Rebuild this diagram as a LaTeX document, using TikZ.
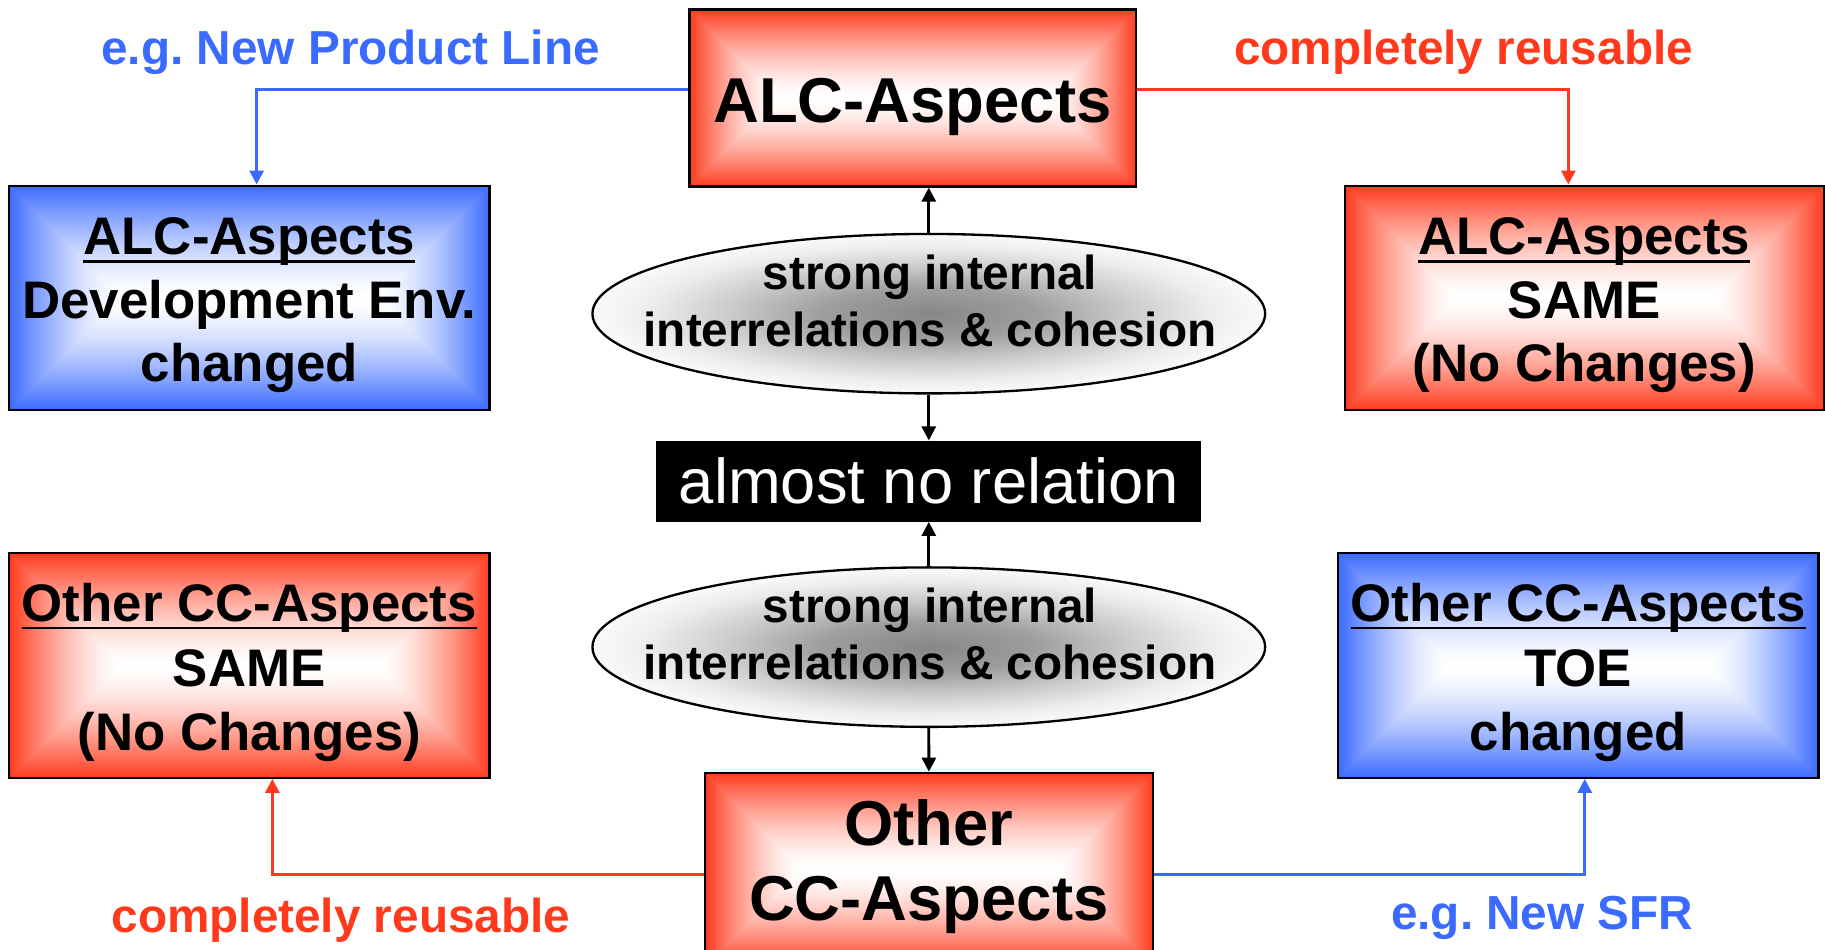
\documentclass[tikz,border=0pt]{standalone}
\usepackage{fontspec}
\setmainfont{Liberation Sans}
\usetikzlibrary{arrows.meta,shapes.geometric}
\definecolor{myred}{RGB}{255,58,28}
\definecolor{myblue}{RGB}{58,106,255}
% rectangular (distance-to-edge) gradient: #1 name, #2 aspect w/h, #3 colour code
\newcommand{\mkrectshade}[3]{\pgfdeclarefunctionalshading{#1}{\pgfpoint{-50bp}{-50bp}}{\pgfpoint{50bp}{50bp}}{}{abs 25 exch sub exch abs 25 exch sub #2 mul 2 copy gt {exch} if pop 25 div 1 exch sub dup 0 lt {pop 0} if dup 1 gt {pop 1} if 1.5 exp #3}}
\mkrectshade{redtop}{2.526}{dup 0.773 mul 1 exch sub exch 0.89 mul 1 exch sub 1 3 1 roll}
\mkrectshade{redside}{2.145}{dup 0.773 mul 1 exch sub exch 0.89 mul 1 exch sub 1 3 1 roll}
\mkrectshade{redbot}{2.317}{dup 0.773 mul 1 exch sub exch 0.89 mul 1 exch sub 1 3 1 roll}
\mkrectshade{blueside}{2.145}{dup 0.773 mul 1 exch sub exch 0.584 mul 1 exch sub 1}
\pgfdeclareradialshading{ellglow}{\pgfpoint{0bp}{0bp}}{color(0bp)=(black!47); color(8bp)=(black!38); color(15bp)=(black!20); color(21bp)=(black!7); color(25bp)=(black!2); color(50bp)=(black!2)}
\newcommand{\myul}[1]{\setbox0\hbox{#1}\rlap{\rule[-6.8pt]{\wd0}{2pt}}\box0}
\tikzset{
  boxbase/.style={rectangle, draw=black, line width=2pt, inner sep=0pt},
  ellbox/.style={ellipse, draw=black, line width=2pt, shading=ellglow, inner sep=0pt, minimum width=578pt, minimum height=137pt},
  blackbox/.style={rectangle, fill=black, inner sep=0pt},
  bigtxt/.style={anchor=base, inner sep=0pt, font=\fontsize{54.5}{60}\selectfont\bfseries},
  sidetxt/.style={anchor=base, inner sep=0pt, font=\fontsize{45.4}{50}\selectfont\bfseries},
  elltxt/.style={anchor=base, inner sep=0pt, font=\fontsize{41}{46}\selectfont\bfseries},
  lbltxt/.style={anchor=base, inner sep=0pt, font=\fontsize{41}{46}\selectfont\bfseries},
  conn/.style={line width=2.6pt, -{Triangle[length=12pt,width=12pt]}},
  blackarrow/.style={line width=2.4pt, black, -{Triangle[length=12pt,width=12pt]}}
}
\begin{document}
\begin{tikzpicture}[x=1pt,y=-1pt]
\useasboundingbox (0,0) rectangle (1568,816);
\clip (0,0) rectangle (1568,816);
\fill[white] (0,0) rectangle (1568,816);

% boxes
\node[boxbase, shading=redtop, minimum width=384pt, minimum height=152pt] (top) at (784.3,84.2) {};
\node[boxbase, shading=blueside, minimum width=413pt, minimum height=192.5pt] (tl) at (214.2,255.8) {};
\node[boxbase, shading=redside, minimum width=411.6pt, minimum height=192.5pt] (tr) at (1361.1,255.8) {};
\node[boxbase, shading=redside, minimum width=413pt, minimum height=192.8pt] (bl) at (214.2,571.8) {};
\node[boxbase, shading=blueside, minimum width=412.8pt, minimum height=192.8pt] (br) at (1356,571.8) {};
\node[boxbase, shading=redbot, minimum width=384.7pt, minimum height=166pt] (bot) at (798.1,747) {};
\node[ellbox] (e1) at (798,269.5) {};
\node[ellbox] (e2) at (798,556) {};
\node[blackbox, minimum width=468.5pt, minimum height=69.6pt] (nr) at (798,413.4) {};

% texts
\node[bigtxt] (ttop) at (784,105.4) {ALC-Aspects};
\node[sidetxt] (tl1) at (214.2,219) {\myul{ALC-Aspects}};
\node[sidetxt] (tl2) at (214.2,273.5) {Development Env.};
\node[sidetxt] (tl3) at (214.2,328) {changed};
\node[sidetxt] (tr1) at (1361.1,219) {\myul{ALC-Aspects}};
\node[sidetxt] (tr2) at (1361.1,273.5) {SAME};
\node[sidetxt] (tr3) at (1361.1,328) {(No Changes)};
\node[sidetxt] (bl1) at (214.2,534) {\myul{Other CC-Aspects}};
\node[sidetxt] (bl2) at (214.2,589.5) {SAME};
\node[sidetxt] (bl3) at (214.2,644.5) {(No Changes)};
\node[sidetxt] (br1) at (1356,534) {\myul{Other CC-Aspects}};
\node[sidetxt] (br2) at (1356,589.5) {TOE};
\node[sidetxt] (br3) at (1356,644.5) {changed};
\node[elltxt] (e1a) at (799,248.6) {strong internal};
\node[elltxt] (e1b) at (799,297.8) {interrelations \& cohesion};
\node[elltxt] (e2a) at (799,534.7) {strong internal};
\node[elltxt] (e2b) at (799,583.7) {interrelations \& cohesion};
\node[anchor=base, inner sep=0pt, text=white, font=\fontsize{54.4}{60}\selectfont] (nrt) at (798,432.5) {almost no relation};
\node[bigtxt] (bot1) at (798,726) {Other};
\node[bigtxt] (bot2) at (798,790.5) {CC-Aspects};

% labels
\node[lbltxt, text=myblue] (lb1) at (301.3,55.8) {e.g.\ New Product Line};
\node[lbltxt, text=myred] (lb2) at (1257.5,55.8) {completely reusable};
\node[lbltxt, text=myred] (lb3) at (292.9,801) {completely reusable};
\node[lbltxt, text=myblue] (lb4) at (1325,798.5) {e.g.\ New SFR};

% connectors
\draw[conn, myblue] ([yshift=6.9pt]top.west) -| ([xshift=6.3pt]tl.north);
\draw[conn, myred] ([yshift=6.9pt]top.east) -| ([xshift=-13.6pt]tr.north);
\draw[conn, myred] ([yshift=-4pt]bot.west) -| ([xshift=19.8pt]bl.south);
\draw[conn, myblue] ([yshift=-4pt]bot.east) -| ([xshift=5.6pt]br.south);

\draw[blackarrow] (e1.north) -- (e1.north |- top.south);
\draw[blackarrow] (e1.south) -- (nr.north);
\draw[blackarrow] (e2.north) -- (nr.south);
\draw[blackarrow] (e2.south) -- (bot.north);
\end{tikzpicture}
\end{document}
